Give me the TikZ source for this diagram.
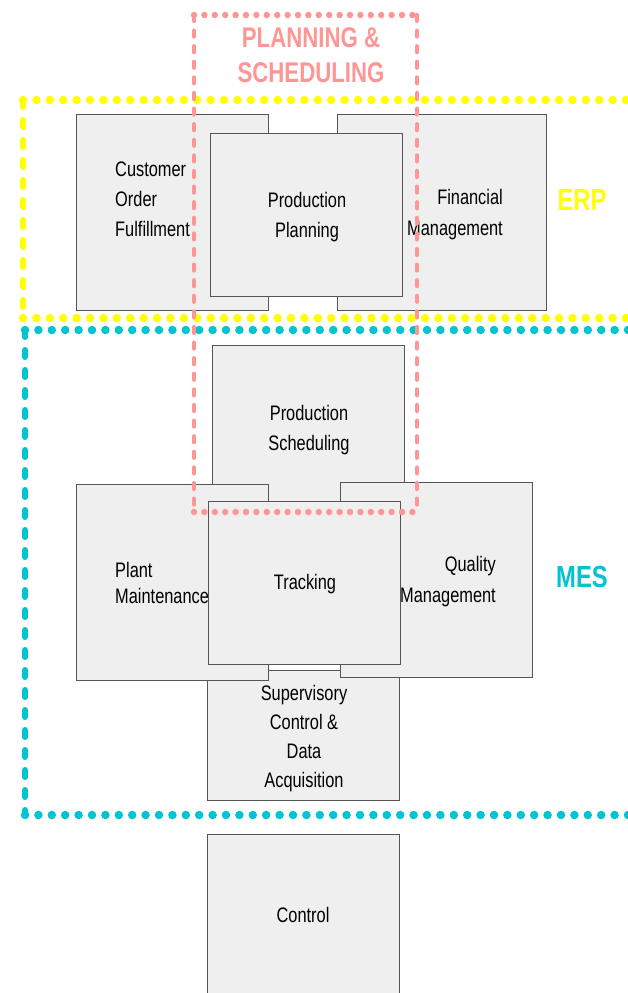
\documentclass[tikz,border=0pt]{standalone}
\usepackage{fontspec}
\setmainfont{Liberation Sans}[FakeStretch=0.78]
\definecolor{pinkc}{RGB}{255,150,150}
\definecolor{yel}{RGB}{255,255,0}
\definecolor{cyn}{RGB}{0,196,208}
\definecolor{boxfill}{RGB}{239,239,239}
\definecolor{boxline}{RGB}{85,85,85}
\begin{document}
\begin{tikzpicture}[x=1pt,y=-1pt,
  box/.style={draw=boxline, fill=boxfill, line width=1.2pt, rectangle, anchor=north west, inner sep=0pt},
  txt/.style={inner sep=0pt, text=black},
  btxt/.style={txt, font=\fontsize{21}{30}\selectfont},
  bigdotsh/.style={line width=8.5pt, line cap=round, dash pattern=on 0pt off 13.4pt},
  bigdotsv/.style={line width=6pt, line cap=round, dash pattern=on 7pt off 13pt},
  smalldotsh/.style={line width=6.5pt, line cap=round, dash pattern=on 0pt off 10.4pt},
  smalldotsv/.style={line width=4.2pt, line cap=round, dash pattern=on 6pt off 9.6pt}
]
\useasboundingbox (0,0) rectangle (628,993);
\clip (0,0) rectangle (628,993);
\fill[white] (0,0) rectangle (628,993);

% ERP boxes
\node[box, minimum width=192pt, minimum height=196pt] (cof) at (76,114) {};
\node[box, minimum width=209pt, minimum height=196pt] (fin) at (337,114) {};
\node[box, minimum width=192pt, minimum height=163pt] (pp) at (210,133) {};

% MES boxes
\node[box, minimum width=192pt, minimum height=195pt] (ps) at (212,345) {};
\node[box, minimum width=192pt, minimum height=130pt] (scada) at (207,670) {};
\node[box, minimum width=192pt, minimum height=196pt] (plant) at (76,484) {};
\node[box, minimum width=192pt, minimum height=195pt] (qm) at (340,482) {};
\node[box, minimum width=192pt, minimum height=163pt] (trk) at (208,501) {};

% Control
\node[box, minimum width=192pt, minimum height=180pt] (ctl) at (207,834) {};

% Box texts
\node[btxt, anchor=north west, align=left] (tcof) at (115,162) {Customer\\Order\\Fulfillment};
\node[btxt, anchor=north, align=center] (tpp) at (307,192) {Production\\Planning};
\node[btxt, anchor=north east, align=right, font=\fontsize{21}{31}\selectfont] (tfin) at (503,189) {Financial\\Management};
\node[btxt, anchor=north, align=center] (tps) at (309,405) {Production\\Scheduling};
\node[btxt, anchor=north west, align=left, font=\fontsize{21}{26}\selectfont] (tplant) at (115,562) {Plant\\Maintenance};
\node[btxt, anchor=north, align=center] (ttrk) at (305,574) {Tracking};
\node[btxt, anchor=north east, align=right, font=\fontsize{21}{31}\selectfont] (tqm) at (496,556) {Quality\\Management};
\node[btxt, anchor=north, align=center, font=\fontsize{21}{29}\selectfont] (tscada) at (304,685) {Supervisory\\Control \&\\Data\\Acquisition};
\node[btxt, anchor=north, align=center] (tctl) at (303,907) {Control};

% ERP frame (yellow)
\draw[yel, bigdotsh] (23,100) -- (640,100);
\draw[yel, bigdotsh] (23,318) -- (640,318);
\draw[yel, bigdotsv] (23,100) -- (23,318);
% MES frame (cyan)
\draw[cyn, bigdotsh] (25,330) -- (640,330);
\draw[cyn, bigdotsh] (25,815) -- (640,815);
\draw[cyn, bigdotsv] (25,330) -- (25,815);
% Planning & Scheduling frame (pink)
\draw[pinkc, smalldotsh] (194,15) -- (417,15);
\draw[pinkc, smalldotsh] (194,512) -- (417,512);
\draw[pinkc, smalldotsv] (194,15) -- (194,512);
\draw[pinkc, smalldotsv] (417,15) -- (417,512);

% Group labels
\node[txt, text=pinkc, anchor=north, align=center, font=\fontsize{28.5}{35}\selectfont\bfseries] (lps) at (311,27) {PLANNING \&\\SCHEDULING};
\node[txt, text=yel, anchor=north, font=\fontsize{30.5}{36}\selectfont\bfseries] (lerp) at (582,189) {ERP};
\node[txt, text=cyn, anchor=north, font=\fontsize{30.5}{36}\selectfont\bfseries] (lmes) at (582,566) {MES};
\end{tikzpicture}
\end{document}
